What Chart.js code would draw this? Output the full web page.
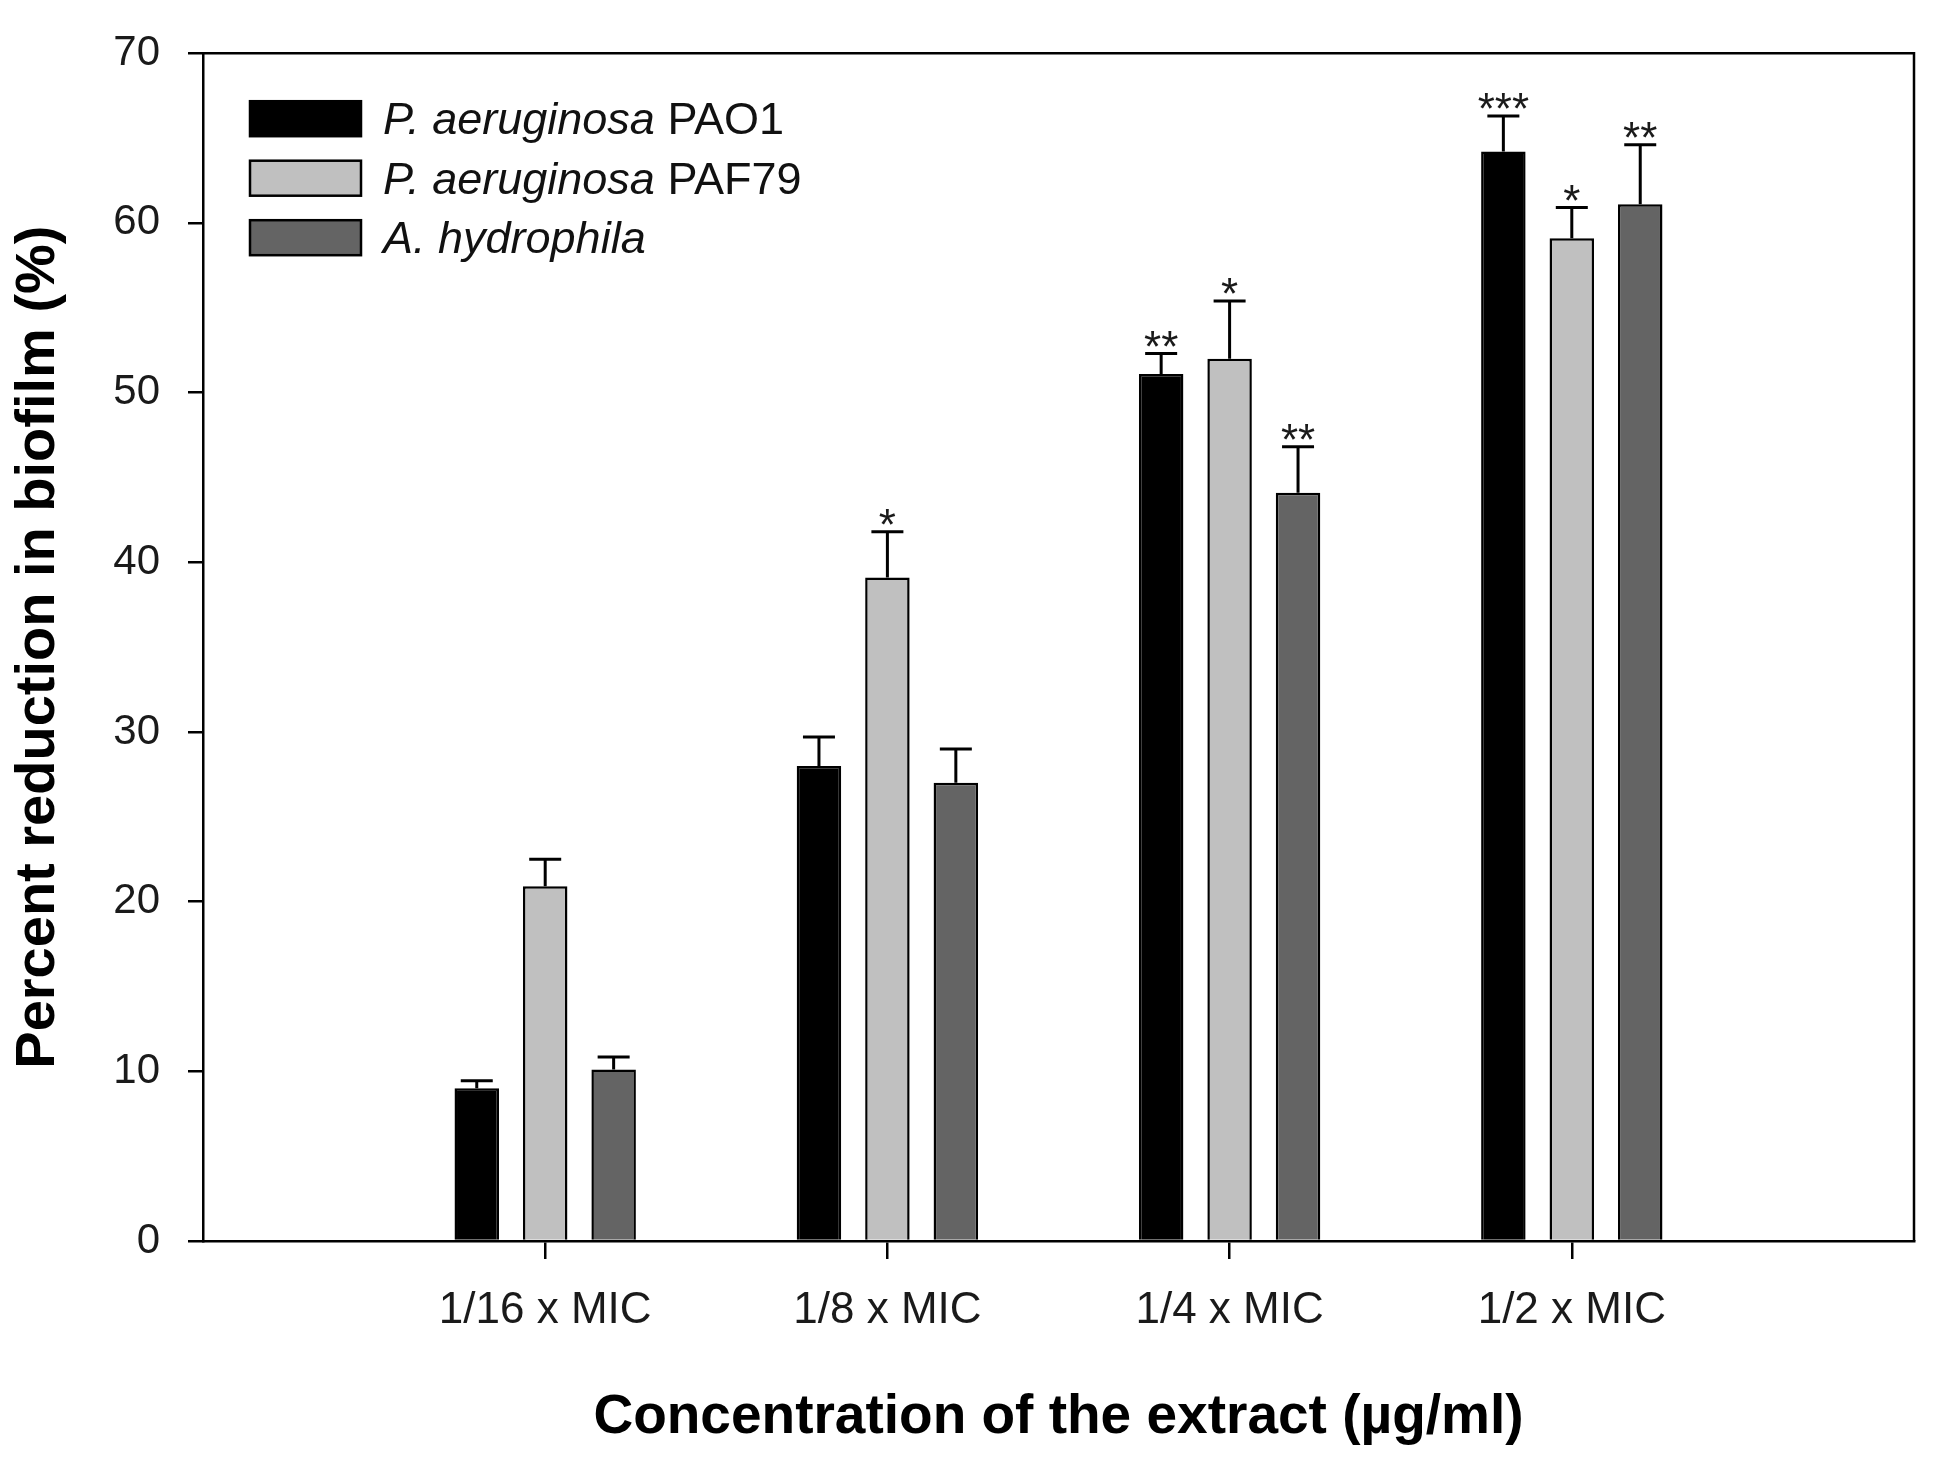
<!DOCTYPE html>
<html>
<head>
<meta charset="utf-8">
<script src="https://cdn.jsdelivr.net/npm/chart.js@4.4.0/dist/chart.umd.min.js"></script>
<style>
html, body { margin: 0; padding: 0; background: #fff; }
canvas { display: block; }
</style>
</head>
<body>
<canvas id="biofilm_chart" width="1939" height="1479"></canvas>
<script>
// values
const categories = ['1/16 x MIC', '1/8 x MIC', '1/4 x MIC', '1/2 x MIC'];
const pao1 = [9.0, 28.0, 51.1, 64.2];
const pao1Err = [0.45, 1.7, 1.2, 2.1];
const pao1Stars = ['', '', '**', '***'];
const paf79 = [20.9, 39.1, 52.0, 59.1];
const paf79Err = [1.6, 2.7, 3.4, 1.8];
const paf79Stars = ['', '*', '*', '*'];
const hydro = [10.1, 27.0, 44.1, 61.1];
const hydroErr = [0.75, 2.0, 2.7, 3.5];
const hydroStars = ['', '', '**', '**'];
const yTicks = [0, 10, 20, 30, 40, 50, 60, 70];

const FONT = '"Liberation Sans", Arial, Helvetica, sans-serif';
Chart.defaults.font.family = FONT;
Chart.defaults.color = '#1a1a1a';

// empty slot at each end so the groups sit at 1/5 .. 4/5 of the axis
const xLabels = [''].concat(categories, ['']);
function pad(arr) { return [null].concat(arr, [null]); }

const legendItems = [
    { italic: 'P. aeruginosa', plain: ' PAO1', color: '#000000' },
    { italic: 'P. aeruginosa', plain: ' PAF79', color: '#c0c0c0' },
    { italic: 'A. hydrophila', plain: '', color: '#646464' }
];

const errorBars = {
    id: 'errorBars',
    afterDatasetsDraw(chart) {
        const ctx = chart.ctx;
        const y = chart.scales.y;
        chart.data.datasets.forEach((ds, i) => {
            const meta = chart.getDatasetMeta(i);
            meta.data.forEach((bar, j) => {
                const v = ds.data[j];
                if (v == null) return;
                const top = y.getPixelForValue(v);
                const hi = y.getPixelForValue(v + ds.err[j]);
                ctx.save();
                ctx.strokeStyle = '#000';
                ctx.lineWidth = 3;
                ctx.beginPath();
                ctx.moveTo(bar.x, top);
                ctx.lineTo(bar.x, hi);
                ctx.moveTo(bar.x - 16, hi);
                ctx.lineTo(bar.x + 16, hi);
                ctx.stroke();
                if (ds.stars[j]) {
                    ctx.fillStyle = '#1a1a1a';
                    ctx.font = '44px ' + FONT;
                    ctx.textAlign = 'center';
                    ctx.textBaseline = 'alphabetic';
                    ctx.fillText(ds.stars[j], bar.x, hi + 8);
                }
                ctx.restore();
            });
        });
    }
};

const frameAndLegend = {
    id: 'frameAndLegend',
    afterDraw(chart) {
        const ctx = chart.ctx;
        const a = chart.chartArea;
        ctx.save();
        ctx.strokeStyle = '#000';
        ctx.lineWidth = 2.5;
        ctx.beginPath();
        ctx.moveTo(a.left, a.top);
        ctx.lineTo(a.right, a.top);
        ctx.lineTo(a.right, a.bottom);
        ctx.stroke();

        // legend in the upper left corner of the plot
        legendItems.forEach((it, k) => {
            const bx = a.left + 47, by = a.top + 48 + k * 59.5;
            ctx.fillStyle = it.color;
            ctx.fillRect(bx, by, 111, 35);
            ctx.lineWidth = 2.5;
            ctx.strokeStyle = '#000';
            ctx.strokeRect(bx, by, 111, 35);
            const base = by + 17.5 + 15.5;
            ctx.fillStyle = '#111';
            ctx.textBaseline = 'alphabetic';
            ctx.textAlign = 'left';
            ctx.font = 'italic 45px ' + FONT;
            ctx.fillText(it.italic, bx + 133, base);
            const w = ctx.measureText(it.italic).width;
            ctx.font = '45px ' + FONT;
            ctx.fillText(it.plain, bx + 133 + w, base);
        });
        ctx.restore();
    }
};

const dt = {
    labels: xLabels,
    datasets: [
        {
            label: 'P. aeruginosa PAO1',
            data: pad(pao1),
            err: pad(pao1Err),
            stars: pad(pao1Stars),
            backgroundColor: '#000000',
            borderColor: '#000',
            borderWidth: 2.5
        },
        {
            label: 'P. aeruginosa PAF79',
            data: pad(paf79),
            err: pad(paf79Err),
            stars: pad(paf79Stars),
            backgroundColor: '#c0c0c0',
            borderColor: '#000',
            borderWidth: 2.5
        },
        {
            label: 'A. hydrophila',
            data: pad(hydro),
            err: pad(hydroErr),
            stars: pad(hydroStars),
            backgroundColor: '#646464',
            borderColor: '#000',
            borderWidth: 2.5
        }
    ]
};

const config_biofilm = {
    type: 'bar',
    data: dt,
    options: {
        responsive: false,
        devicePixelRatio: 1,
        animation: false,
        categoryPercentage: 0.6,
        barPercentage: 0.65,
        layout: { padding: { left: 0, right: 13, top: 41, bottom: 0 } },
        plugins: {
            legend: { display: false },
            tooltip: { enabled: false }
        },
        scales: {
            x: {
                type: 'category',
                offset: false,
                grid: {
                    offset: false,
                    drawOnChartArea: false,
                    drawTicks: true,
                    tickLength: 18,
                    lineWidth: 2.5,
                    color: c => (c.index === 0 || c.index === xLabels.length - 1) ? 'rgba(0,0,0,0)' : '#000'
                },
                border: { display: true, color: '#000', width: 2.5 },
                ticks: { font: { size: 44 }, padding: 25, maxRotation: 0, autoSkip: false },
                title: {
                    display: true,
                    text: 'Concentration of the extract (µg/ml)',
                    font: { size: 55, weight: 'bold' },
                    color: '#000',
                    padding: { top: 0, bottom: 28 }
                },
                afterFit(s) { s.height = 238; }
            },
            y: {
                min: 0,
                max: 70,
                afterBuildTicks(s) { s.ticks = yTicks.map(v => ({ value: v })); },
                ticks: { font: { size: 42 }, padding: 28 },
                grid: { drawOnChartArea: false, tickLength: 15, lineWidth: 2.5, color: '#000' },
                border: { display: true, color: '#000', width: 2.5 },
                title: {
                    display: true,
                    text: 'Percent reduction in biofilm (%)',
                    font: { size: 56, weight: 'bold' },
                    color: '#000',
                    padding: { top: 5, bottom: 0 }
                },
                afterFit(s) { s.width = 203; }
            }
        }
    },
    plugins: [errorBars, frameAndLegend]
};

const biofilm_chart = new Chart(
    document.getElementById('biofilm_chart'),
    config_biofilm
);
</script>
</body>
</html>
